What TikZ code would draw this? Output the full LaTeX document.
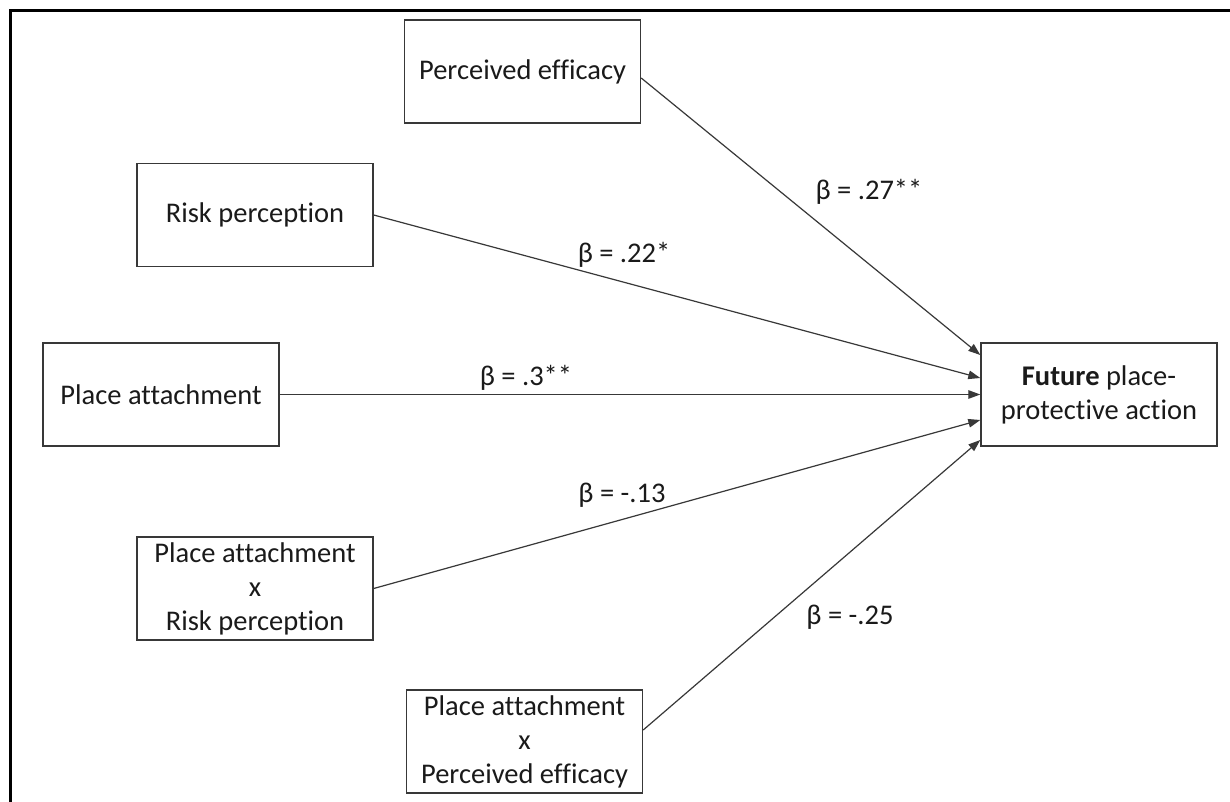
\documentclass[tikz,border=0pt]{standalone}
\usepackage{fontspec}
\setmainfont{Carlito}[Ligatures=NoCommon]
\usetikzlibrary{arrows.meta,calc}
\definecolor{ink}{HTML}{1A1A1A}
\definecolor{edge}{HTML}{383838}
\begin{document}
\begin{tikzpicture}[x=1pt,y=-1pt,
  varbox/.style={draw=edge,line width=1.4pt,fill=white,minimum width=236pt,minimum height=103pt,
    inner sep=0pt,align=center,text=ink,font=\fontsize{28.5}{34}\selectfont},
  path/.style={draw=edge,line width=1.2pt,-{Triangle[length=12pt,width=8.5pt]}},
  beta/.style={text=ink,font=\fontsize{28.5}{32}\selectfont,inner sep=0pt}]
\useasboundingbox (0,0) rectangle (1230,802);
\fill[white] (0,0) rectangle (1230,802);
\draw[line width=3pt,black] (10.5,802) -- (10.5,10.5) -- (1230,10.5);

\node[varbox] (pe)   at (522.5,71.5)  {Perceived efficacy};
\node[varbox] (rp)   at (255,215)     {Risk perception};
\node[varbox] (pa)   at (161,394.5)   {Place attachment};
\node[varbox] (parp) at (255,588.5)   {Place attachment\\x\\Risk perception};
\node[varbox] (pape) at (524.5,741.5) {Place attachment\\x\\Perceived efficacy};
\node[varbox] (fut)  at (1099,394.5)  {\textbf{Future} place-\\protective action};

\coordinate (s1) at ($(pe.east)+(0,6.5)$);
\coordinate (s5) at ($(pape.east)+(0,-11.5)$);
\coordinate (e1) at ($(fut.west)+(0,-39.5)$);
\coordinate (e2) at ($(fut.west)+(0,-16.5)$);
\coordinate (e3) at (fut.west);
\coordinate (e4) at ($(fut.west)+(0,25.5)$);
\coordinate (e5) at ($(fut.west)+(0,45.5)$);

\draw[path] (s1) -- (e1);
\draw[path] (rp.east) -- (e2);
\draw[path] (pa.east) -- (e3);
\draw[path] (parp.east) -- (e4);
\draw[path] (s5) -- (e5);

\node[beta] (b1) at (869,192) {β = .27**};
\node[beta] (b2) at (624,255) {β = .22*};
\node[beta] (b3) at (526,378) {β = .3**};
\node[beta] (b4) at (622,495) {β = -.13};
\node[beta] (b5) at (850,617) {β = -.25};
\end{tikzpicture}
\end{document}
